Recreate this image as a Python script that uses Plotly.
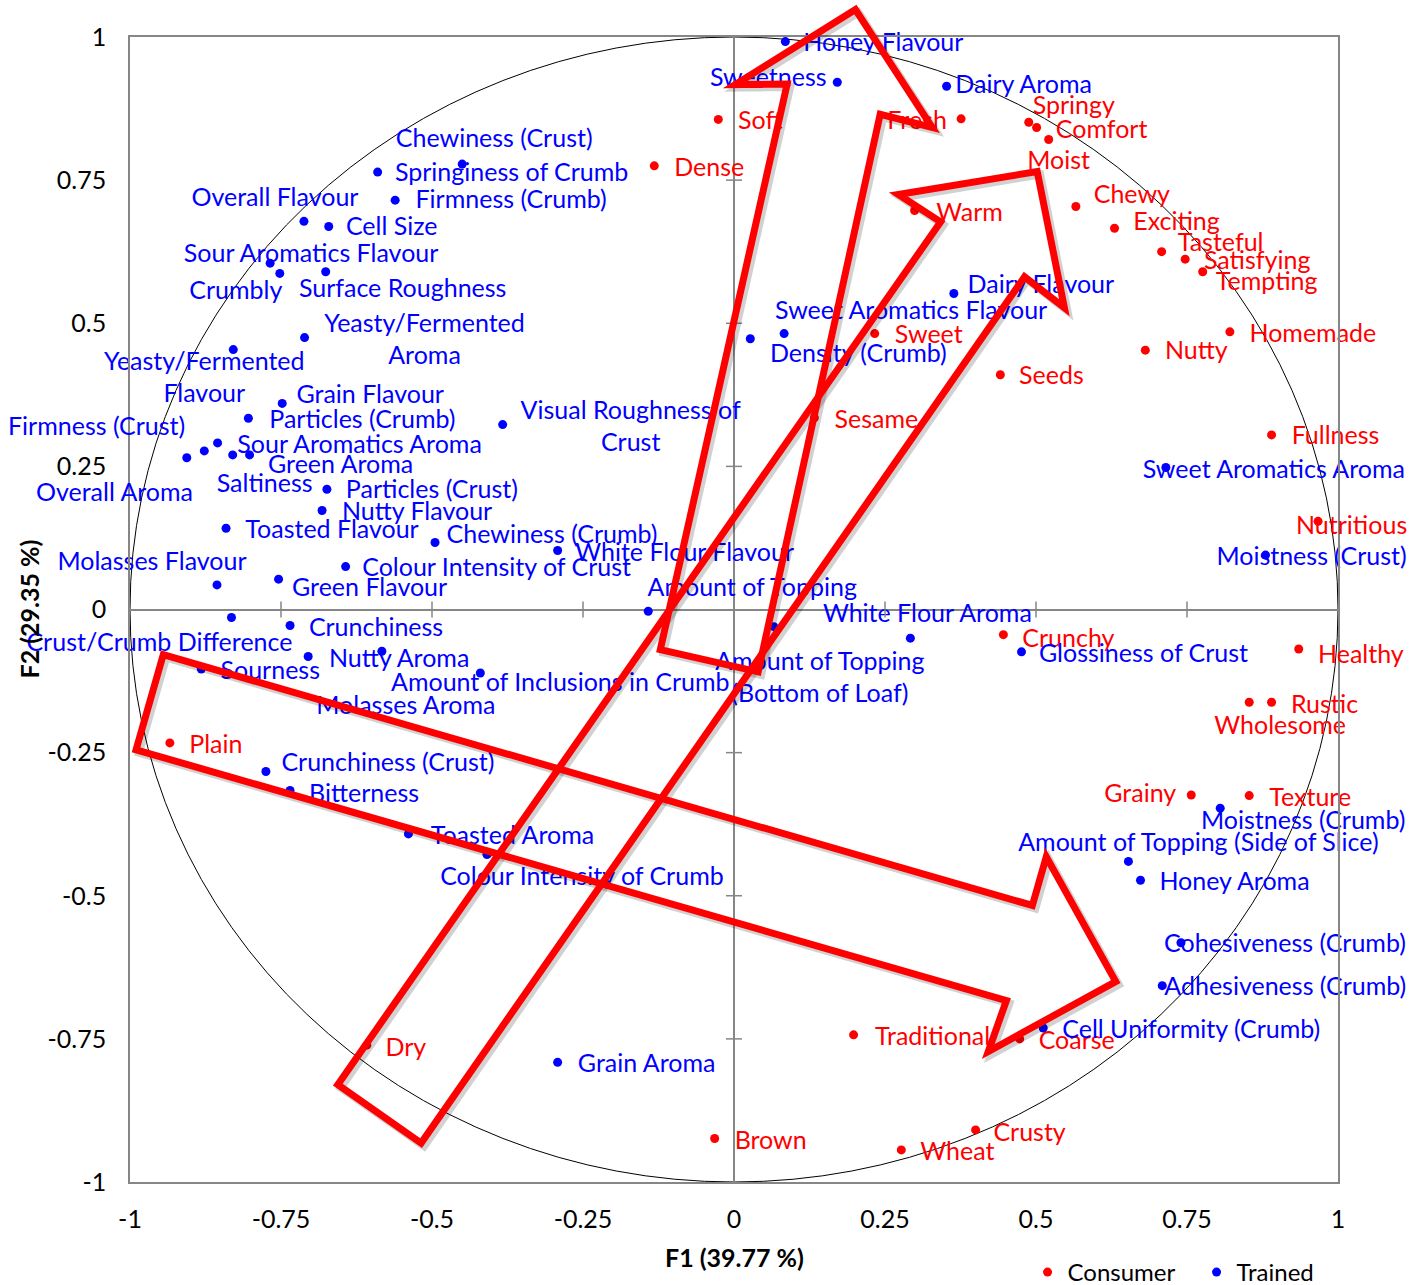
import plotly.graph_objects as go

# ---------------------------------------------------------------------------
# Loadings on the first two factors (F1, F2)
# ---------------------------------------------------------------------------
trained_names = [
    "Honey Flavour", "Sweetness", "Dairy Aroma", "Springiness of Crumb",
    "Chewiness (Crust)", "Firmness (Crumb)", "Overall Flavour", "Cell Size",
    "Sour Aromatics Flavour", "Crumbly", "Surface Roughness",
    "Yeasty/Fermented<br>Aroma", "Yeasty/Fermented<br>Flavour", "Grain Flavour",
    "Particles (Crumb)", "Sour Aromatics Aroma", "Overall Aroma",
    "Firmness (Crust)", "Saltiness", "Green Aroma", "Particles (Crust)",
    "Nutty Flavour", "Toasted Flavour", "Chewiness (Crumb)",
    "Colour Intensity of Crust", "Molasses Flavour", "Green Flavour",
    "White Flour Flavour", "Amount of Topping", "Visual Roughness of<br>Crust",
    "Crust/Crumb Difference", "Crunchiness", "Nutty Aroma", "Sourness",
    "Amount of Inclusions in Crumb", "Molasses Aroma", "Crunchiness (Crust)",
    "Bitterness", "Toasted Aroma", "Colour Intensity of Crumb", "Grain Aroma",
    "Dairy Flavour", "Sweet Aromatics Flavour", "Density (Crumb)",
    "White Flour Aroma", "Amount of Topping<br>(Bottom of Loaf)",
    "Glossiness of Crust", "Sweet Aromatics Aroma", "Moistness (Crust)",
    "Moistness (Crumb)", "Amount of Topping (Side of Slice)", "Honey Aroma",
    "Cohesiveness (Crumb)", "Adhesiveness (Crumb)", "Cell Uniformity (Crumb)",
]
trained_f1 = [
    0.085, 0.171, 0.352, -0.590,
    -0.450, -0.561, -0.712, -0.671,
    -0.768, -0.752, -0.676,
    -0.711, -0.829, -0.748,
    -0.804, -0.855, -0.877,
    -0.906, -0.830, -0.802, -0.674,
    -0.682, -0.841, -0.495,
    -0.643, -0.856, -0.754,
    -0.292, -0.142, -0.383,
    -0.832, -0.735, -0.705, -0.882,
    -0.420, -0.583, -0.775,
    -0.735, -0.539, -0.409, -0.292,
    0.364, 0.083, 0.027,
    0.292, 0.066,
    0.476, 0.715, 0.880,
    0.805, 0.653, 0.673,
    0.740, 0.709, 0.512,
]
trained_f2 = [
    0.992, 0.921, 0.914, 0.764,
    0.778, 0.715, 0.678, 0.669,
    0.605, 0.587, 0.590,
    0.475, 0.454, 0.360,
    0.334, 0.291, 0.277,
    0.265, 0.270, 0.270, 0.210,
    0.173, 0.142, 0.117,
    0.075, 0.043, 0.053,
    0.103, -0.003, 0.323,
    -0.014, -0.028, -0.082, -0.104,
    -0.111, -0.073, -0.283,
    -0.316, -0.392, -0.428, -0.791,
    0.552, 0.482, 0.473,
    -0.050, -0.030,
    -0.074, 0.248, 0.095,
    -0.347, -0.440, -0.473,
    -0.582, -0.657, -0.731,
]

consumer_names = [
    "Soft", "Dense", "Fresh", "Springy", "Comfort", "Moist", "Warm", "Chewy",
    "Exciting", "Tasteful", "Satisfying", "Tempting", "Homemade", "Sweet",
    "Nutty", "Seeds", "Sesame", "Fullness", "Nutritious", "Crunchy",
    "Healthy", "Wholesome", "Rustic", "Grainy", "Texture", "Plain", "Dry",
    "Traditional", "Coarse", "Brown", "Crusty", "Wheat",
]
consumer_f1 = [
    -0.026, -0.132, 0.376, 0.488, 0.501, 0.521, 0.299, 0.566,
    0.630, 0.708, 0.747, 0.776, 0.821, 0.233,
    0.681, 0.441, 0.133, 0.890, 0.967, 0.446,
    0.935, 0.853, 0.890, 0.757, 0.853, -0.934, -0.608,
    0.198, 0.473, -0.032, 0.400, 0.277,
]
consumer_f2 = [
    0.856, 0.775, 0.857, 0.851, 0.842, 0.821, 0.697, 0.704,
    0.666, 0.625, 0.612, 0.590, 0.485, 0.482,
    0.453, 0.410, 0.335, 0.305, 0.154, -0.044,
    -0.069, -0.162, -0.162, -0.324, -0.325, -0.233, -0.761,
    -0.743, -0.750, -0.924, -0.909, -0.944,
]

# Highlight arrows (outline vertices in F1/F2 units)
arrow_up = [(-0.122, -0.070), (0.088, 0.918), (0.002, 0.917), (0.201, 1.048),
            (0.328, 0.842), (0.242, 0.865), (0.040, -0.109)]
arrow_diag = [(-0.656, -0.830), (0.342, 0.677), (0.272, 0.725), (0.502, 0.765),
              (0.547, 0.527), (0.481, 0.581), (-0.518, -0.932)]
arrow_across = [(-0.945, -0.079), (0.494, -0.517), (0.517, -0.432), (0.632, -0.650),
                (0.421, -0.772), (0.451, -0.683), (-0.990, -0.245)]

tick_vals = [-1, -0.75, -0.5, -0.25, 0, 0.25, 0.5, 0.75, 1]
tick_text = ["-1", "-0.75", "-0.5", "-0.25", "0", "0.25", "0.5", "0.75", "1"]

# ---------------------------------------------------------------------------
# Label placement: pixel offset of each label centre from its point
# ---------------------------------------------------------------------------
label_offset = {
    "Honey Flavour": (98, 1), "Sweetness": (-69, -4), "Dairy Aroma": (77, -1),
    "Springiness of Crumb": (134, 1), "Chewiness (Crust)": (32, -25),
    "Firmness (Crumb)": (116, 0), "Overall Flavour": (-29, -24),
    "Cell Size": (63, 0), "Sour Aromatics Flavour": (41, -9),
    "Crumbly": (-44, 17), "Surface Roughness": (77, 17),
    "Yeasty/Fermented<br>Aroma": (120, 2), "Yeasty/Fermented<br>Flavour": (-29, 28),
    "Grain Flavour": (88, -9), "Particles (Crumb)": (114, 1),
    "Sour Aromatics Aroma": (142, 2), "Overall Aroma": (-90, 38),
    "Firmness (Crust)": (-90, -35), "Saltiness": (32, 29), "Green Aroma": (91, 10),
    "Particles (Crust)": (105, 0), "Nutty Flavour": (95, 1),
    "Toasted Flavour": (106, 2), "Chewiness (Crumb)": (117, -8),
    "Colour Intensity of Crust": (151, 1), "Molasses Flavour": (-65, -23),
    "Green Flavour": (91, 9), "White Flour Flavour": (127, 2),
    "Amount of Topping": (104, -23), "Visual Roughness of<br>Crust": (128, 2),
    "Crust/Crumb Difference": (-72, 25), "Crunchiness": (86, 2),
    "Nutty Aroma": (91, 2), "Sourness": (69, 2),
    "Amount of Inclusions in Crumb": (80, 10), "Molasses Aroma": (24, 54),
    "Crunchiness (Crust)": (122, -9), "Bitterness": (74, 3),
    "Toasted Aroma": (104, 2), "Colour Intensity of Crumb": (95, 22),
    "Grain Aroma": (89, 1), "Dairy Flavour": (87, -9),
    "Sweet Aromatics Flavour": (127, -23), "Density (Crumb)": (108, 15),
    "White Flour Aroma": (17, -24), "Amount of Topping<br>(Bottom of Loaf)": (46, 51),
    "Glossiness of Crust": (122, 2), "Sweet Aromatics Aroma": (108, 2),
    "Moistness (Crust)": (46, 2), "Moistness (Crumb)": (83, 13),
    "Amount of Topping (Side of Slice)": (70, -19), "Honey Aroma": (94, 1),
    "Cohesiveness (Crumb)": (104, 1), "Adhesiveness (Crumb)": (123, 1),
    "Cell Uniformity (Crumb)": (148, 2),
    "Soft": (42, 1), "Dense": (55, 2), "Fresh": (-44, 2), "Springy": (45, -17),
    "Comfort": (65, 2), "Moist": (10, 21), "Warm": (55, 2), "Chewy": (56, -12),
    "Exciting": (62, -6), "Tasteful": (59, -9), "Satisfying": (72, 2),
    "Tempting": (64, 10), "Homemade": (83, 2), "Sweet": (54, 1), "Nutty": (51, 1),
    "Seeds": (51, 1), "Sesame": (62, 2), "Fullness": (64, 1), "Nutritious": (33, 1),
    "Crunchy": (65, 4), "Healthy": (62, 2), "Wholesome": (31, 23), "Rustic": (53, 2),
    "Grainy": (-51, -1), "Texture": (61, 2), "Plain": (46, 2), "Dry": (39, 3),
    "Traditional": (79, 2), "Coarse": (57, 2), "Brown": (56, 2), "Crusty": (54, 3),
    "Wheat": (56, 2),
}
LABEL_DY = 2  # small downward nudge applied to every label

# ---------------------------------------------------------------------------
# Layout geometry
# ---------------------------------------------------------------------------
W, H = 1411, 1285
ML, MR, MT, MB = 130, 73, 37, 103
PLOT_W, PLOT_H = W - ML - MR, H - MT - MB
X_RANGE, Y_RANGE = (-1, 1), (-1, 1)
PX_X = PLOT_W / (X_RANGE[1] - X_RANGE[0])
PX_Y = PLOT_H / (Y_RANGE[1] - Y_RANGE[0])

FONT = "Lato, 'Open Sans', sans-serif"
RED, BLUE = "#FF0000", "#0000FF"
AXIS_GREY = "#868686"
LABEL_SIZE = 25

fig = go.Figure()

# points (these also make the legend)
fig.add_trace(go.Scatter(
    x=consumer_f1, y=consumer_f2, mode="markers", name="Consumer",
    marker=dict(color=RED, size=9), cliponaxis=False,
))
fig.add_trace(go.Scatter(
    x=trained_f1, y=trained_f2, mode="markers", name="Trained",
    marker=dict(color=BLUE, size=9), cliponaxis=False,
))

# point labels: text traces sit under the arrows; labels whose centre lies
# beyond the axis range are written as annotations instead
annotations = []
for names, xs, ys, col in [(consumer_names, consumer_f1, consumer_f2, RED),
                           (trained_names, trained_f1, trained_f2, BLUE)]:
    lx, ly, lt = [], [], []
    for n, x, y in zip(names, xs, ys):
        dx, dy = label_offset.get(n, (0, 0))
        dy += LABEL_DY
        cx, cy = x + dx / PX_X, y - dy / PX_Y
        if X_RANGE[0] <= cx <= X_RANGE[1] and Y_RANGE[0] <= cy <= Y_RANGE[1]:
            lx.append(cx)
            ly.append(cy)
            lt.append(n)
        else:
            annotations.append(dict(
                text=n, x=x, y=y, xref="x", yref="y", xshift=dx, yshift=-dy,
                showarrow=False, xanchor="center", yanchor="middle",
                font=dict(family=FONT, size=LABEL_SIZE, color=col)))
    fig.add_trace(go.Scatter(
        x=lx, y=ly, mode="text", text=lt, textposition="middle center",
        textfont=dict(family=FONT, size=LABEL_SIZE, color=col),
        showlegend=False, hoverinfo="skip", cliponaxis=False,
    ))

shapes = []

# unit correlation circle
shapes.append(dict(type="circle", xref="x", yref="y", x0=-1, y0=-1, x1=1, y1=1,
                   line=dict(color="black", width=1), layer="below"))

# crossing tick marks on the zero lines
for v in tick_vals:
    if v in (-1, 0, 1):
        continue
    shapes.append(dict(type="line", xref="x", yref="y", ysizemode="pixel", yanchor=0,
                       x0=v, x1=v, y0=-8, y1=8, line=dict(color=AXIS_GREY, width=1.5)))
    shapes.append(dict(type="line", xref="x", yref="y", xsizemode="pixel", xanchor=0,
                       y0=v, y1=v, x0=-8, x1=8, line=dict(color=AXIS_GREY, width=1.5)))


def to_paper(pt, sx=0.0, sy=0.0):
    px = (pt[0] - X_RANGE[0]) / (X_RANGE[1] - X_RANGE[0]) + sx / PLOT_W
    py = (pt[1] - Y_RANGE[0]) / (Y_RANGE[1] - Y_RANGE[0]) - sy / PLOT_H
    return px, py


def outline_path(vertices, sx=0.0, sy=0.0):
    pts = [to_paper(v, sx, sy) for v in vertices]
    return "M " + " L ".join(f"{x:.5f},{y:.5f}" for x, y in pts) + " Z"


for arrow in (arrow_up, arrow_diag, arrow_across):
    # soft drop shadow, then the red outline
    shapes.append(dict(type="path", xref="paper", yref="paper",
                       path=outline_path(arrow, 3, 3), layer="above",
                       line=dict(color="rgba(0,0,0,0.18)", width=8)))
for arrow in (arrow_up, arrow_diag, arrow_across):
    shapes.append(dict(type="path", xref="paper", yref="paper",
                       path=outline_path(arrow), layer="above",
                       line=dict(color=RED, width=7)))

axis_common = dict(
    range=list(X_RANGE), tickmode="array", tickvals=tick_vals, ticktext=tick_text,
    showgrid=False, zeroline=True, zerolinecolor=AXIS_GREY, zerolinewidth=1.5,
    showline=True, linecolor=AXIS_GREY, linewidth=1.5, mirror=True, ticks="",
    tickfont=dict(family=FONT, size=LABEL_SIZE, color="black"), fixedrange=True,
)

annotations += [
    dict(text="<b>F1 (39.77 %)</b>", xref="paper", yref="paper", x=0.5, y=0,
         yshift=-75, showarrow=False, xanchor="center", yanchor="middle",
         font=dict(family=FONT, size=LABEL_SIZE, color="black")),
    dict(text="<b>F2 (29.35 %)</b>", xref="paper", yref="paper", x=0, y=0.5,
         xshift=-102, showarrow=False, xanchor="center", yanchor="middle",
         textangle=-90, font=dict(family=FONT, size=LABEL_SIZE, color="black")),
]

fig.update_layout(
    width=W, height=H,
    margin=dict(l=ML, r=MR, t=MT, b=MB, autoexpand=False),
    paper_bgcolor="white", plot_bgcolor="white",
    font=dict(family=FONT, size=LABEL_SIZE, color="black"),
    xaxis=dict(axis_common, ticklabelstandoff=14),
    yaxis=dict(axis_common, range=list(Y_RANGE), ticklabelstandoff=17),
    shapes=shapes,
    showlegend=True,
    legend=dict(orientation="h", x=0.743, xanchor="left", y=-0.0594, yanchor="top",
                font=dict(family=FONT, size=24, color="black"),
                itemwidth=30, entrywidth=124, bgcolor="rgba(0,0,0,0)",
                tracegroupgap=0),
    annotations=annotations,
)

fig.write_html("out.html")
